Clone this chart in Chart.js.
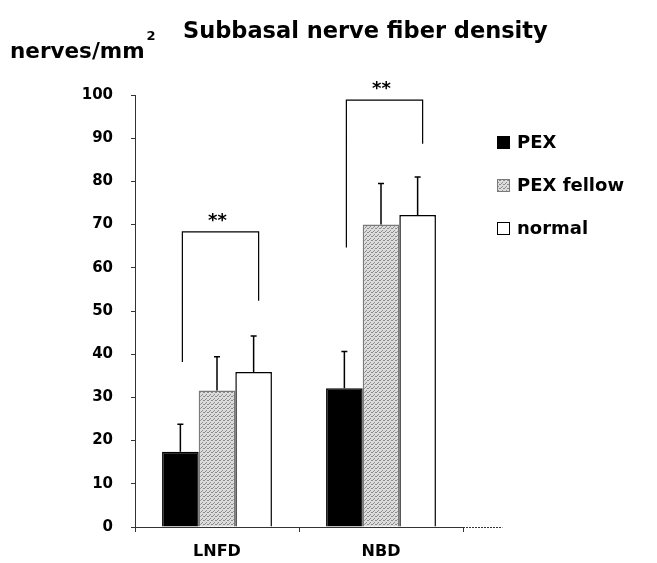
<!DOCTYPE html>
<html><head><meta charset="utf-8">
<script src="https://cdn.jsdelivr.net/npm/chart.js@4"></script>
<style>html,body{margin:0;padding:0;background:#fff}#wrap{width:657px;height:563px;position:relative}</style>
</head><body><div id="wrap"><canvas id="c" width="657" height="563"></canvas></div>
<script>
const categories = ["LNFD", "NBD"];
const seriesNames = ["PEX", "PEX fellow", "normal"];
const pexValues = [17.4, 32.1];
const fellowValues = [31.6, 70.0];
const normalValues = [35.9, 72.2];
const pexErrors = [6.4, 8.5];
const fellowErrors = [7.8, 9.5];
const normalErrors = [8.3, 8.8];
const yTicks = [0, 10, 20, 30, 40, 50, 60, 70, 80, 90, 100];
// significance brackets: [category index, left end value, top value, right end value, label]
const brackets = [
  [0, 38.2, 68.3, 52.4, "**"],
  [1, 64.7, 98.8, 88.7, "**"]
];
const titleText = "Subbasal nerve fiber density";
const yUnitText = "nerves/mm";
const yUnitSup = "2";

const FONT = "DejaVu Sans";

function makePattern() {
  const p = document.createElement('canvas');
  p.width = 4; p.height = 4;
  const g = p.getContext('2d');
  g.fillStyle = '#dcdcdc'; g.fillRect(0,0,4,4);
  g.fillStyle = '#8c8c8c';
  g.fillRect(0,0,1,1); g.fillRect(2,2,1,1); g.fillRect(3,0,1,1); g.fillRect(1,3,1,1);
  return document.getElementById('c').getContext('2d').createPattern(p, 'repeat');
}
const grayPat = makePattern();
const fills = ['#000000', grayPat, '#ffffff'];
const borders = ['#000000', '#7a7a7a', '#000000'];
const errs = [pexErrors, fellowErrors, normalErrors];

const overlay = {
  id: 'overlay',
  afterDatasetsDraw(chart) {
    const ctx = chart.ctx;
    const y = chart.scales.y;
    const ca = chart.chartArea;
    ctx.save();
    // error bars
    ctx.strokeStyle = '#000'; ctx.lineWidth = 1.5;
    chart.data.datasets.forEach((ds, di) => {
      const meta = chart.getDatasetMeta(di);
      meta.data.forEach((bar, i) => {
        const top = y.getPixelForValue(ds.data[i] + errs[di][i]);
        ctx.beginPath();
        ctx.moveTo(bar.x, bar.y); ctx.lineTo(bar.x, top);
        ctx.moveTo(bar.x - 3, top); ctx.lineTo(bar.x + 3, top);
        ctx.stroke();
      });
    });
    // brackets
    ctx.lineWidth = 1.2;
    brackets.forEach(b => {
      const ci = b[0];
      const xl = chart.getDatasetMeta(0).data[ci].x + 2;
      const xr = chart.getDatasetMeta(2).data[ci].x + 5;
      const yl = y.getPixelForValue(b[1]), yt = y.getPixelForValue(b[2]), yr = y.getPixelForValue(b[3]);
      ctx.beginPath();
      ctx.moveTo(xl, yl); ctx.lineTo(xl, yt); ctx.lineTo(xr, yt); ctx.lineTo(xr, yr);
      ctx.stroke();
      ctx.fillStyle = '#000';
      ctx.font = 'bold 18px "' + FONT + '"';
      ctx.textAlign = 'center'; ctx.textBaseline = 'alphabetic';
      ctx.fillText(b[4], (xl + xr) / 2 - 3, yt - 6);
    });
    // extend x axis line
    ctx.strokeStyle = '#333'; ctx.lineWidth = 1; ctx.setLineDash([2,1]);
    const catW = (ca.right - ca.left) / categories.length;
    ctx.beginPath(); ctx.moveTo(ca.right, ca.bottom + 0.5); ctx.lineTo(ca.right + catW * 0.24, ca.bottom + 0.5); ctx.stroke();
    ctx.setLineDash([]);
    // title
    ctx.fillStyle = '#000';
    ctx.textAlign = 'left'; ctx.textBaseline = 'alphabetic';
    ctx.font = 'bold 22.5px "' + FONT + '"';
    ctx.fillText(titleText, 183, 38);
    ctx.font = 'bold 21.5px "' + FONT + '"';
    ctx.fillText(yUnitText, 10, 58);
    const w = ctx.measureText(yUnitText).width;
    ctx.font = 'bold 13px "' + FONT + '"';
    ctx.fillText(yUnitSup, 10 + w + 2, 40);
    // legend
    ctx.font = 'bold 18px "' + FONT + '"';
    ctx.textBaseline = 'middle';
    const ly = [142, 185, 228];
    seriesNames.forEach((n, i) => {
      ctx.fillStyle = fills[i];
      ctx.fillRect(497, ly[i] - 6, 13, 13);
      ctx.strokeStyle = borders[i]; ctx.lineWidth = 1;
      ctx.strokeRect(497.5, ly[i] - 5.5, 12, 12);
      ctx.fillStyle = '#000';
      ctx.fillText(n, 517, ly[i] + 1);
    });
    ctx.restore();
  }
};

new Chart(document.getElementById('c'), {
  type: 'bar',
  data: {
    labels: categories,
    datasets: [pexValues, fellowValues, normalValues].map((d, i) => ({
      label: seriesNames[i], data: d,
      backgroundColor: fills[i], borderColor: borders[i], borderWidth: 1.5,
      categoryPercentage: 0.67, barPercentage: 1.0
    }))
  },
  options: {
    responsive: false, animation: false,
    layout: { padding: { top: 95, right: 194, left: 0, bottom: 0 } },
    plugins: { legend: { display: false }, tooltip: { enabled: false }, title: { display: false } },
    scales: {
      x: {
        grid: { drawOnChartArea: false, drawTicks: true, tickLength: 5, color: '#333', offset: true },
        border: { display: true, color: '#333', width: 1, dash: [2,1] },
        ticks: { color: '#000', font: { family: FONT, weight: 'bold', size: 16 }, padding: 10 },
        afterFit(s) { s.height = 36; }
      },
      y: {
        min: 0, max: 100,
        afterBuildTicks(s) { s.ticks = yTicks.map(v => ({ value: v })); },
        grid: { drawOnChartArea: false, drawTicks: true, tickLength: 4, color: '#333' },
        border: { display: true, color: '#333', width: 1, dash: [2,1] },
        ticks: { color: '#000', font: { family: FONT, weight: 'bold', size: 15 }, padding: 18 },
        afterFit(s) { s.width = 135; }
      }
    }
  },
  plugins: [overlay]
});
</script></body></html>
